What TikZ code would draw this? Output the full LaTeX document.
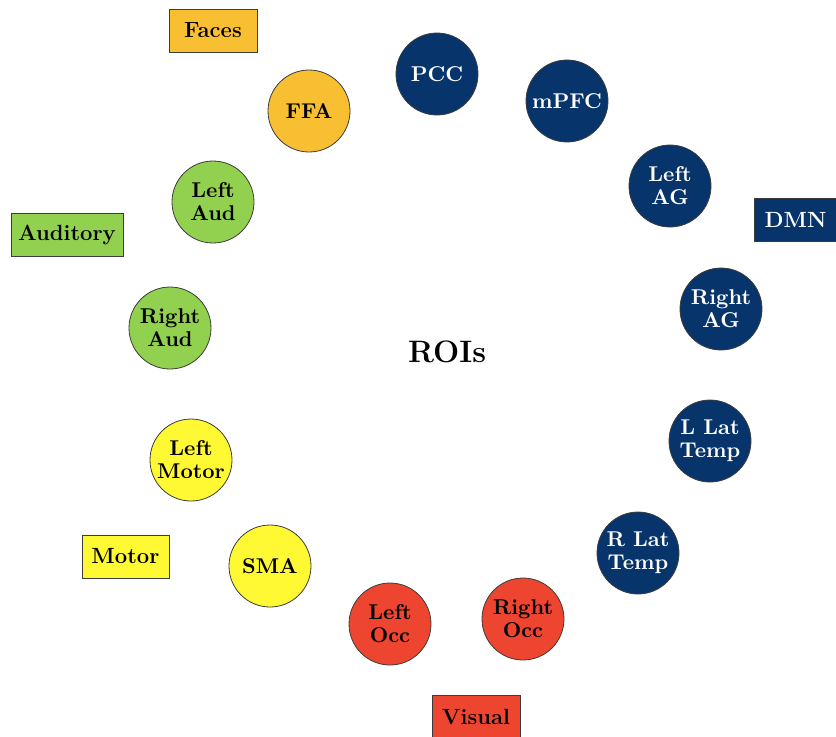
\documentclass[tikz,border=0pt]{standalone}
\definecolor{dmnblue}{RGB}{7,53,107}
\definecolor{faceorange}{RGB}{249,191,51}
\definecolor{audgreen}{RGB}{146,208,80}
\definecolor{motoryellow}{RGB}{255,249,51}
\definecolor{visred}{RGB}{238,69,48}
\definecolor{edgegray}{RGB}{60,60,60}
\begin{document}
\begin{tikzpicture}[x=0.5pt,y=-0.5pt,
  roi/.style={circle,draw=edgegray,line width=0.4pt,minimum size=41pt,inner sep=0pt,
    font=\fontsize{10.7}{11.5}\selectfont\bfseries,align=center},
  darkroi/.style={roi,fill=dmnblue,text=white},
  netbox/.style={rectangle,draw=edgegray,line width=0.4pt,inner sep=0pt,
    minimum height=21.5pt,font=\fontsize{11}{13}\selectfont\bfseries}]
\useasboundingbox (0,0) rectangle (836,736);

% centre label
\node[font=\fontsize{15.5}{18}\selectfont\bfseries] (rois) at (447,352) {ROIs};

% default mode network
\node[darkroi] (pcc)   at (437,74)  {PCC};
\node[darkroi] (mpfc)  at (567,101) {mPFC};
\node[darkroi] (lag)   at (670,186) {Left\\AG};
\node[darkroi] (rag)   at (721,309) {Right\\AG};
\node[darkroi] (llt)   at (710,441) {L Lat\\Temp};
\node[darkroi] (rlt)   at (638,553) {R Lat\\Temp};

% visual
\node[roi,fill=visred] (rocc) at (523,619) {Right\\Occ};
\node[roi,fill=visred] (locc) at (390,624) {Left\\Occ};

% motor
\node[roi,fill=motoryellow] (sma)  at (270,566) {SMA};
\node[roi,fill=motoryellow] (lmot) at (191,460) {Left\\Motor};

% auditory
\node[roi,fill=audgreen] (raud) at (170,328) {Right\\Aud};
\node[roi,fill=audgreen] (laud) at (213,202) {Left\\Aud};

% faces
\node[roi,fill=faceorange] (ffa) at (309,111) {FFA};

% network labels
\node[netbox,fill=faceorange,minimum width=44pt] (faces) at (213,30.5) {Faces};
\node[netbox,fill=audgreen,minimum width=56pt] (aud) at (67,235) {Auditory};
\node[netbox,fill=dmnblue,text=white,minimum width=41pt] (dmn) at (795.5,220) {DMN};
\node[netbox,fill=motoryellow,minimum width=43.5pt] (motor) at (125.5,556.5) {Motor};
\node[netbox,fill=visred,minimum width=44pt] (visual) at (476,716.5) {Visual};
\end{tikzpicture}
\end{document}
